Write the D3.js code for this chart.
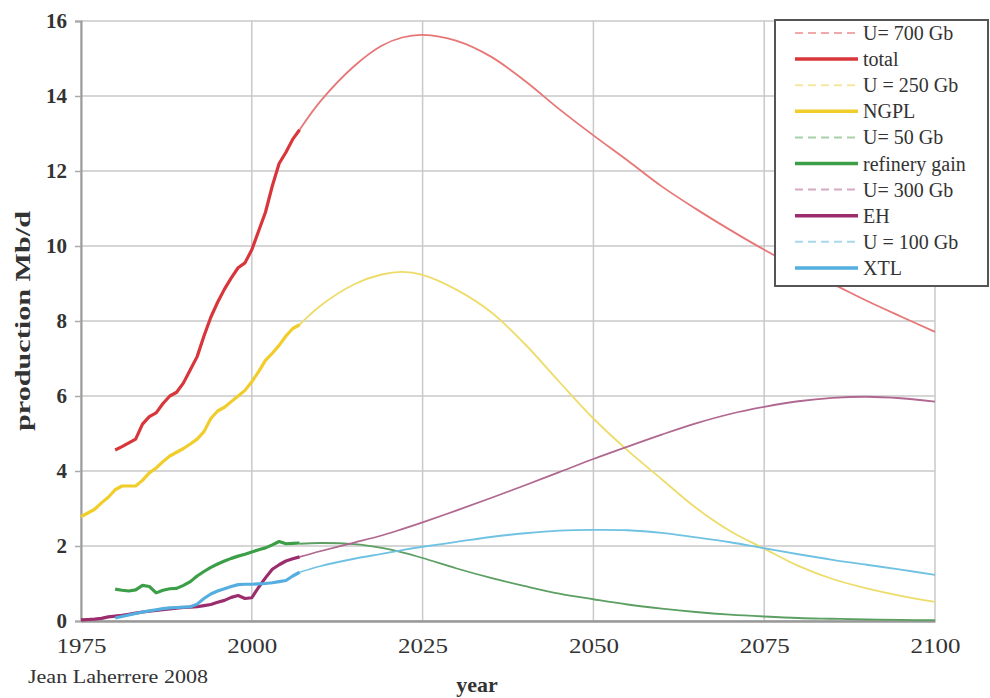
<!DOCTYPE html>
<html>
<head>
<meta charset="utf-8">
<script src="https://cdn.jsdelivr.net/npm/d3@7"></script>
<style>
  html, body { margin: 0; padding: 0; background: #fff; }
  svg { display: block; }
  text { font-family: 'Times New Roman', Times, 'Liberation Serif', serif; fill: #333; }
</style>
</head>
<body>
<script>
// data (Mb/d)
const histYears = d3.range(1975, 2008)
const forecastYears = [2007, 2010, 2015, 2019, 2022, 2025, 2030, 2035, 2040, 2045, 2050,
  2055, 2060, 2065, 2070, 2075, 2080, 2085, 2090, 2095, 2100]

const totalHist = [null, null, null, null, null,
  4.56, 4.65, 4.75, 4.85, 5.25, 5.45, 5.55, 5.8, 6.0, 6.1,
  6.35, 6.7, 7.05, 7.6, 8.1, 8.5, 8.85, 9.15, 9.42, 9.55,
  9.9, 10.4, 10.9, 11.6, 12.2, 12.5, 12.85, 13.1]
const totalForecast = [13.1, 13.85, 14.8, 15.34, 15.56, 15.63, 15.47, 15.05, 14.4, 13.65, 12.95,
  12.28, 11.59, 10.99, 10.43, 9.9, 9.42, 8.99, 8.54, 8.12, 7.71]

const ngplHist = [2.78, 2.88, 2.98, 3.15, 3.3,
  3.5, 3.6, 3.6, 3.6, 3.75, 3.95, 4.08, 4.25, 4.4, 4.5,
  4.6, 4.72, 4.85, 5.05, 5.4, 5.6, 5.7, 5.85, 6.0, 6.15,
  6.38, 6.65, 6.95, 7.14, 7.35, 7.6, 7.8, 7.9]
const ngplForecast = [7.9, 8.4, 8.98, 9.24, 9.31, 9.23, 8.83, 8.24, 7.38, 6.38, 5.4,
  4.55, 3.78, 3.02, 2.4, 1.93, 1.47, 1.12, 0.87, 0.67, 0.51]

const refineryHist = [null, null, null, null, null,
  0.85, 0.82, 0.8, 0.83, 0.95, 0.92, 0.75, 0.82, 0.86, 0.87,
  0.95, 1.05, 1.2, 1.32, 1.43, 1.52, 1.6, 1.67, 1.73, 1.78,
  1.84, 1.9, 1.95, 2.03, 2.12, 2.06, 2.07, 2.08]
const refineryForecast = [2.06, 2.08, 2.05, 1.95, 1.83, 1.68, 1.4, 1.15, 0.93, 0.73, 0.58,
  0.44, 0.33, 0.24, 0.17, 0.12, 0.08, 0.06, 0.04, 0.03, 0.02]

const ehHist = [0.03, 0.04, 0.05, 0.07, 0.11,
  0.13, 0.15, 0.18, 0.21, 0.24, 0.26, 0.28, 0.3, 0.32, 0.34,
  0.36, 0.37, 0.38, 0.41, 0.44, 0.5, 0.55, 0.63, 0.68, 0.6,
  0.62, 0.9, 1.15, 1.38, 1.5, 1.6, 1.66, 1.71]
const ehForecast = [1.71, 1.86, 2.09, 2.28, 2.45, 2.63, 2.95, 3.28, 3.62, 3.97, 4.32,
  4.65, 4.97, 5.27, 5.52, 5.71, 5.86, 5.95, 5.98, 5.94, 5.85]

const xtlHist = [null, null, null, null, null,
  0.08, 0.12, 0.16, 0.2, 0.24, 0.27, 0.3, 0.33, 0.35, 0.36,
  0.37, 0.38, 0.45, 0.6, 0.72, 0.8, 0.86, 0.92, 0.97, 0.98,
  0.98, 0.99, 1.0, 1.02, 1.05, 1.08, 1.2, 1.3]
const xtlForecast = [1.3, 1.46, 1.66, 1.79, 1.89, 1.98, 2.11, 2.24, 2.34, 2.41, 2.43,
  2.42, 2.35, 2.23, 2.1, 1.94, 1.78, 1.63, 1.5, 1.37, 1.23]

const xTicks = [1975, 2000, 2025, 2050, 2075, 2100]
const yTicks = [0, 2, 4, 6, 8, 10, 12, 14, 16]

const series = [
  { name: 'total', u: 'U= 700 Gb', hist: totalHist, fc: totalForecast, color: '#d8363a', light: '#e77676', dash: '#f0a8a8' },
  { name: 'NGPL', u: 'U = 250 Gb', hist: ngplHist, fc: ngplForecast, color: '#f1cd2c', light: '#eedc6a', dash: '#f4e7a0' },
  { name: 'refinery gain', u: 'U= 50 Gb', hist: refineryHist, fc: refineryForecast, color: '#3d9e48', light: '#5c9f62', dash: '#a8cfa8' },
  { name: 'EH', u: 'U= 300 Gb', hist: ehHist, fc: ehForecast, color: '#9c2d6c', light: '#b06890', dash: '#d6aac4' },
  { name: 'XTL', u: 'U = 100 Gb', hist: xtlHist, fc: xtlForecast, color: '#55aee0', light: '#70c2e2', dash: '#a8d8ec' }
]

const width = 990
const height = 698
const margin = { top: 21, right: 55, bottom: 77, left: 81 }
const serif = "'Times New Roman', Times, 'Liberation Serif', serif"

const svg = d3.select('body').append('svg')
  .attr('width', width)
  .attr('height', height)

svg.append('rect').attr('width', width).attr('height', height).attr('fill', '#fff')

const x = d3.scaleLinear().domain([1975, 2100]).range([margin.left, width - margin.right])
const y = d3.scaleLinear().domain([0, 16]).range([height - margin.bottom, margin.top])

// grid
const grid = svg.append('g').attr('stroke', '#c9c9c9').attr('stroke-width', 1.5)
grid.selectAll('line.h').data(yTicks).join('line')
  .attr('x1', x(1975)).attr('x2', x(2100))
  .attr('y1', d => y(d)).attr('y2', d => y(d))
grid.selectAll('line.v').data(xTicks).join('line')
  .attr('y1', y(0)).attr('y2', y(16))
  .attr('x1', d => x(d)).attr('x2', d => x(d))

// axes
const yAxis = svg.append('g')
  .attr('transform', `translate(${x(1975)},0)`)
  .call(d3.axisLeft(y).tickValues(yTicks).tickSize(6).tickPadding(8))
yAxis.attr('font-family', serif)
yAxis.select('.domain').attr('stroke', '#999').attr('stroke-width', 2)
yAxis.selectAll('.tick line').attr('stroke', '#aaa').attr('stroke-width', 1.5)
yAxis.selectAll('.tick text')
  .attr('font-size', 21).attr('font-weight', 'bold').attr('fill', '#444')

const xAxis = svg.append('g')
  .attr('transform', `translate(0,${y(0)})`)
  .call(d3.axisBottom(x).tickValues(xTicks).tickFormat(d3.format('d')).tickSize(0).tickPadding(16))
xAxis.attr('font-family', serif)
xAxis.select('.domain').attr('stroke', '#999').attr('stroke-width', 2.5)
xAxis.selectAll('.tick text')
  .attr('font-size', 22).attr('fill', '#444')
  .attr('textLength', 50).attr('lengthAdjust', 'spacingAndGlyphs')

// lines
const histLine = d3.line()
  .defined(d => d[1] != null)
  .x(d => x(d[0])).y(d => y(d[1]))
const fcLine = d3.line()
  .x(d => x(d[0])).y(d => y(d[1]))
  .curve(d3.curveCatmullRom.alpha(0.5))

const lines = svg.append('g').attr('fill', 'none')
series.forEach(s => {
  lines.append('path')
    .attr('d', fcLine(forecastYears.map((yr, i) => [yr, s.fc[i]])))
    .attr('stroke', s.light).attr('stroke-width', 1.8)
})
series.forEach(s => {
  lines.append('path')
    .attr('d', histLine(histYears.map((yr, i) => [yr, s.hist[i]])))
    .attr('stroke', s.color).attr('stroke-width', 3.2)
    .attr('stroke-linejoin', 'round')
})

// legend
const legend = svg.append('g').attr('transform', 'translate(775,20)')
legend.append('rect')
  .attr('width', 213).attr('height', 266)
  .attr('fill', '#fff').attr('stroke', '#555').attr('stroke-width', 2)

const legendRows = []
series.forEach(s => {
  legendRows.push({ label: s.u, color: s.dash, dashed: true })
  legendRows.push({ label: s.name, color: s.color, dashed: false })
})

const item = legend.selectAll('g.item').data(legendRows).join('g')
  .attr('transform', (d, i) => `translate(0,${13 + i * 26.1})`)
item.append('line')
  .attr('x1', 20).attr('x2', 83)
  .attr('stroke', d => d.color)
  .attr('stroke-width', d => d.dashed ? 2 : 3.5)
  .attr('stroke-dasharray', d => d.dashed ? '8,5' : null)
item.append('text')
  .attr('x', 88).attr('dy', '0.35em')
  .attr('font-size', 20).attr('fill', '#333')
  .text(d => d.label)

// labels
svg.append('text')
  .attr('transform', `translate(30,${y(8)}) rotate(-90)`)
  .attr('text-anchor', 'middle')
  .attr('font-size', 22).attr('font-weight', 'bold').attr('fill', '#333')
  .attr('textLength', 220).attr('lengthAdjust', 'spacingAndGlyphs')
  .text('production Mb/d')

svg.append('text')
  .attr('x', 477).attr('y', 692)
  .attr('text-anchor', 'middle')
  .attr('font-size', 22).attr('font-weight', 'bold').attr('fill', '#333')
  .text('year')

svg.append('text')
  .attr('x', 28).attr('y', 683)
  .attr('font-size', 19).attr('fill', '#555')
  .attr('textLength', 180).attr('lengthAdjust', 'spacingAndGlyphs')
  .text('Jean Laherrere 2008')
</script>
</body>
</html>
